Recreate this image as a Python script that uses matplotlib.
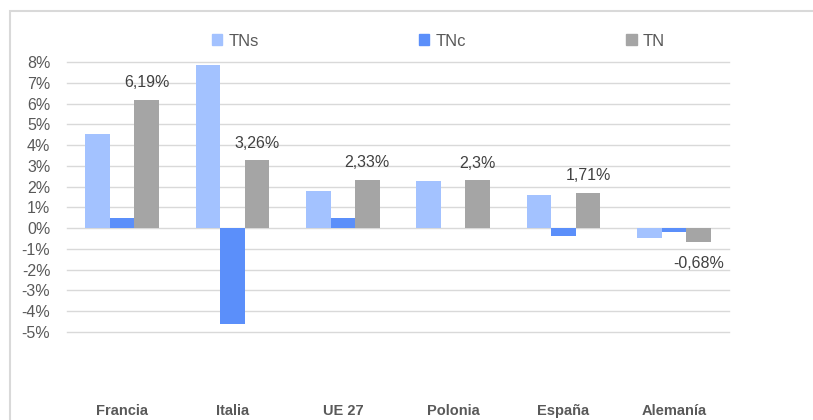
#chart recreation: TNs / TNc / TN por pais

#imports
import numpy as np
import matplotlib.pyplot as plt
from matplotlib.patches import Patch, Rectangle

#data
paises = ['Francia', 'Italia', 'UE 27', 'Polonia', 'España', 'Alemanía']
tns = [4.55, 7.85, 1.8, 2.28, 1.58, -0.48]
tnc = [0.5, -4.62, 0.5, 0.0, -0.4, -0.2]
tn = [6.19, 3.26, 2.33, 2.3, 1.71, -0.68]
tn_labels = ['6,19%', '3,26%', '2,33%', '2,3%', '1,71%', '-0,68%']
y_ticks = [8, 7, 6, 5, 4, 3, 2, 1, 0, -1, -2, -3, -4, -5]

#colors
c_tns = '#A3C2FF'
c_tnc = '#5B8FFA'
c_tn = '#A5A5A5'
c_text = '#595959'

plt.rcParams['font.family'] = ['Liberation Sans', 'DejaVu Sans']

fig = plt.figure(figsize=(8.13, 4.2), dpi=100)
ax = fig.add_axes([67/813, 1 - 332/420, (729 - 67)/813, (332 - 62)/420])

x = np.arange(len(paises))
w = 0.222
ax.bar(x - w, tns, w, color=c_tns, zorder=3)
ax.bar(x, tnc, w, color=c_tnc, zorder=3)
ax.bar(x + w, tn, w, color=c_tn, zorder=3)

#data labels for TN
for xi, v, lab in zip(x, tn, tn_labels):
    if v >= 0:
        ax.annotate(lab, (xi + w, v), xytext=(0, 9), textcoords='offset points',
                    ha='center', va='baseline', fontsize=11.5, color='#404040')
    else:
        ax.annotate(lab, (xi + w, v), xytext=(0, -10), textcoords='offset points',
                    ha='center', va='top', fontsize=11.5, color='#404040')

#axes styling
ax.set_xlim(-0.5, len(paises) - 0.5)
ax.set_ylim(-5, 8)
ax.set_yticks(y_ticks)
ax.set_yticklabels([f'{t}%' for t in y_ticks])
ax.set_xticks(x)
ax.set_xticklabels(paises, fontweight='bold')
ax.tick_params(axis='y', length=0, labelsize=11.5, labelcolor=c_text, pad=12)
ax.tick_params(axis='x', length=0, labelsize=10.5, labelcolor=c_text, pad=52)
for t in y_ticks:
    ax.axhline(t, color='#D9D9D9', lw=1.0, zorder=1, clip_on=False)
for s in ax.spines.values():
    s.set_visible(False)

#legend
handles = [Patch(color=c_tns, label='TNs'), Patch(color=c_tnc, label='TNc'), Patch(color=c_tn, label='TN')]
leg = fig.legend(handles=handles, ncol=3, loc='center', bbox_to_anchor=(438/813, 1 - 41/420),
                 frameon=False, fontsize=12, handlelength=0.65, handleheight=0.65,
                 handletextpad=0.35, columnspacing=9.6)
for t in leg.get_texts():
    t.set_color(c_text)

#chart border (top and left visible, rest cropped)
fig.patches.append(Rectangle((10/813, -0.1), 1.2, 1.1 - 11/420, transform=fig.transFigure,
                             fill=False, edgecolor='#D9D9D9', lw=1.5))

fig.savefig('out.png', dpi=100)
